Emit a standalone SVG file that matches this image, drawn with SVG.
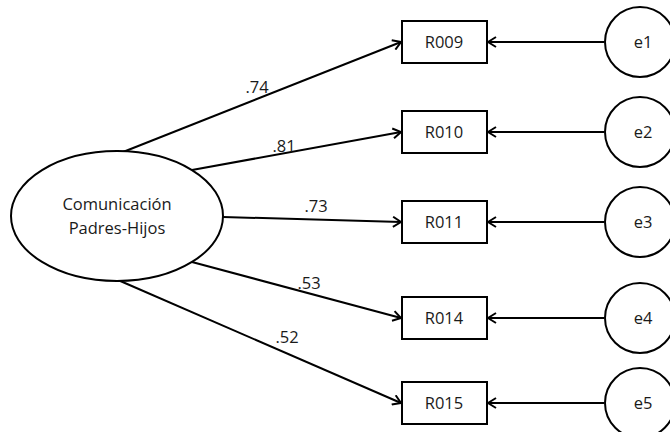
<svg xmlns="http://www.w3.org/2000/svg" width="670" height="432" viewBox="0 0 670 432">
  <style>
    .shape { fill: #fff; stroke: #000; stroke-width: 2; }
    .edge { fill: none; stroke: #000; stroke-width: 2; marker-end: url(#arrow); }
    text { font-family: "Open Sans", "Liberation Sans", sans-serif; font-size: 16.5px; fill: #1a1a1a; text-anchor: middle; }
  </style>
  <defs>
    <marker id="arrow" viewBox="0 0 12 12" refX="11" refY="6" markerWidth="12" markerHeight="12" markerUnits="userSpaceOnUse" orient="auto">
      <path d="M3,1 L11,6 L3,11" fill="none" stroke="#000" stroke-width="2"/>
    </marker>
  </defs>
  <rect width="670" height="432" fill="#fff"/>

  <g id="connectors">
    <path class="edge" d="M118,154 L401,42"/>
    <path class="edge" d="M192,170 L401,132"/>
    <path class="edge" d="M223,217 L401,222"/>
    <path class="edge" d="M192,262 L401,318"/>
    <path class="edge" d="M118,280 L401,403"/>
    <path class="edge" d="M604,42 L488,42"/>
    <path class="edge" d="M604,132 L488,132"/>
    <path class="edge" d="M604,222 L488,222"/>
    <path class="edge" d="M604,318 L488,318"/>
    <path class="edge" d="M604,403 L488,403"/>
    <text x="257" y="93">.74</text>
    <text x="284" y="152">.81</text>
    <text x="316" y="212">.73</text>
    <text x="309" y="289">.53</text>
    <text x="287" y="343">.52</text>
  </g>

  <g id="comunicacion">
    <ellipse class="shape" cx="117" cy="216" rx="106" ry="65"/>
    <text x="117" y="210">Comunicación</text>
    <text x="117" y="234">Padres-Hijos</text>
  </g>

  <g id="R009"><rect class="shape" x="402" y="21" width="85" height="42"/><text x="444" y="48">R009</text></g>
  <g id="R010"><rect class="shape" x="402" y="111" width="85" height="42"/><text x="444" y="138">R010</text></g>
  <g id="R011"><rect class="shape" x="402" y="201" width="85" height="42"/><text x="444" y="228">R011</text></g>
  <g id="R014"><rect class="shape" x="402" y="297" width="85" height="42"/><text x="444" y="324">R014</text></g>
  <g id="R015"><rect class="shape" x="402" y="382" width="85" height="42"/><text x="444" y="409">R015</text></g>

  <g id="e1"><circle class="shape" cx="640" cy="42" r="35"/><text x="643" y="48">e1</text></g>
  <g id="e2"><circle class="shape" cx="640" cy="132" r="35"/><text x="643" y="138">e2</text></g>
  <g id="e3"><circle class="shape" cx="640" cy="222" r="35"/><text x="643" y="228">e3</text></g>
  <g id="e4"><circle class="shape" cx="640" cy="318" r="35"/><text x="643" y="324">e4</text></g>
  <g id="e5"><circle class="shape" cx="640" cy="403" r="35"/><text x="643" y="409">e5</text></g>
</svg>
